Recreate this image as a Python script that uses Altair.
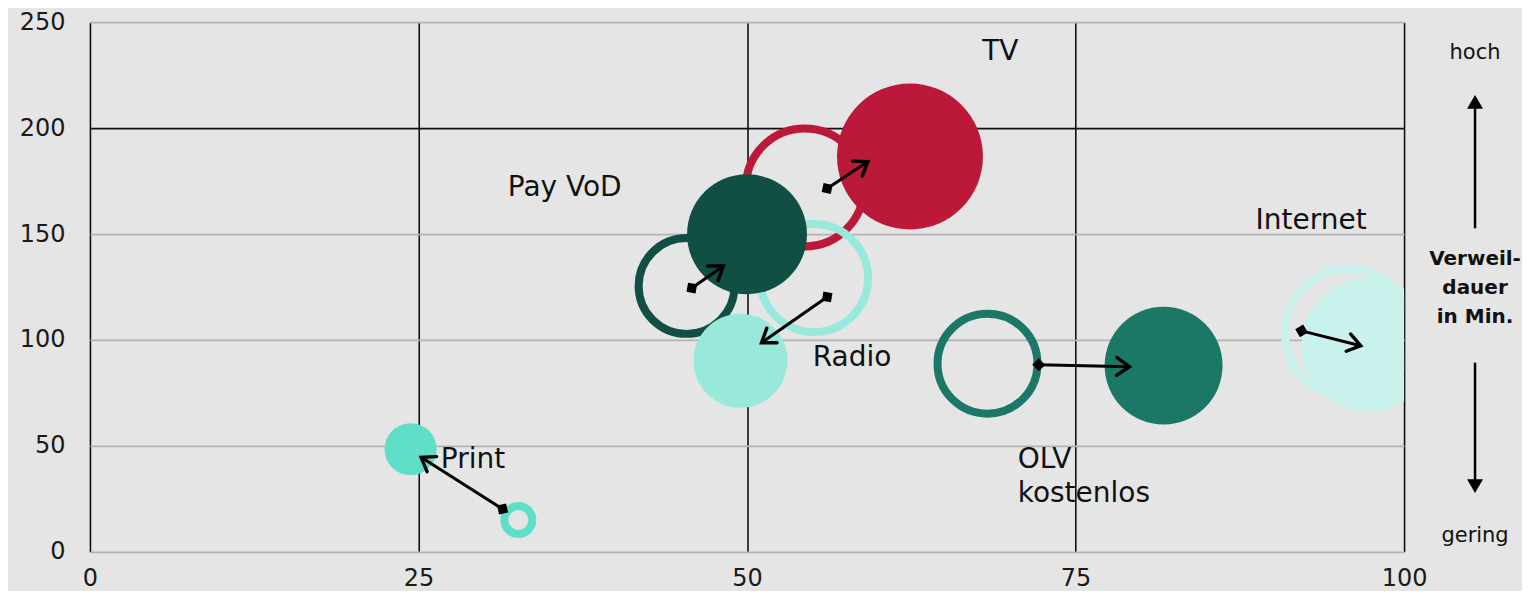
import math
import altair as alt
import pandas as pd

# ---------------- data ----------------
medien = ["TV", "Pay VoD", "Radio", "Print", "OLV kostenlos", "Internet"]
farben = ["#bc1839", "#114f44", "#98e9db", "#5fdfc8", "#1b7766", "#caf2ed"]

# earlier position (ring)
x_vorher = [54.4, 45.4, 55.1, 32.6, 68.3, 95.8]
y_vorher = [172.0, 125.5, 129.2, 15.0, 88.8, 103.4]
groesse_vorher = [34.8, 23.0, 29.2, 1.96, 25.0, 41.0]

# current position (filled bubble)
x_nachher = [62.4, 50.0, 49.5, 24.4, 81.7, 97.3]
y_nachher = [186.6, 149.9, 90.2, 48.4, 87.9, 97.7]
groesse_nachher = [53.3, 36.0, 22.1, 6.8, 34.8, 44.9]

# arrows
pfeil_x1 = [56.1, 45.8, 56.1, 31.4, 72.2, 92.2]
pfeil_y1 = [171.5, 124.5, 120.3, 20.2, 88.3, 104.3]
pfeil_x2 = [59.2, 48.2, 51.1, 25.2, 79.1, 96.7]
pfeil_y2 = [184.2, 134.9, 98.7, 44.6, 87.4, 97.3]

# labels
label_text = ["TV", "Pay VoD", "Radio", "Print", "OLV\nkostenlos", "Internet"]
label_x = [67.9, 31.8, 55.0, 26.7, 70.6, 88.7]
label_y = [235.9, 171.5, 91.6, 43.2, 43.2, 156.0]

x_ticks = [0, 25, 50, 75, 100]
y_ticks = [0, 50, 100, 150, 200, 250]

# side annotation
seite_x = 105.4
seite_texte = ["hoch", "gering"]
seite_text_y = [235.4, 7.5]
seite_titel = "Verweil-\ndauer\nin Min."
seite_titel_y = 138.2
seite_linie_y1 = [152.7, 89.3]
seite_linie_y2 = [210.5, 33.8]
seite_spitze_y = [212.4, 31.0]
seite_spitze_form = ["triangle-up", "triangle-down"]

# ---------------- layout ----------------
W, H = 1315, 530
FONT = "DejaVu Sans"
sx = W / 100.0
sy = H / 250.0
winkel = [
    math.degrees(math.atan2(-(b2 - b1) * sy, (a2 - a1) * sx)) % 360
    for a1, b1, a2, b2 in zip(pfeil_x1, pfeil_y1, pfeil_x2, pfeil_y2)
]

df = pd.DataFrame({
    "medium": medien,
    "x_vorher": x_vorher, "y_vorher": y_vorher, "g_vorher": groesse_vorher,
    "x_nachher": x_nachher, "y_nachher": y_nachher, "g_nachher": groesse_nachher,
    "x1": pfeil_x1, "y1": pfeil_y1, "x2": pfeil_x2, "y2": pfeil_y2,
    "winkel": winkel,
    "label": label_text, "lx": label_x, "ly": label_y,
})

seite_df = pd.DataFrame({"x": [seite_x] * 2, "text": seite_texte, "y": seite_text_y,
                         "ya": seite_linie_y1, "yb": seite_linie_y2,
                         "ys": seite_spitze_y, "form": seite_spitze_form})
titel_df = pd.DataFrame({"x": [seite_x], "y": [seite_titel_y], "text": [seite_titel]})

x_scale = alt.Scale(domain=[0, 100], nice=False, zero=False)
y_scale = alt.Scale(domain=[0, 250], nice=False, zero=False)
color_scale = alt.Scale(domain=medien, range=farben)
# vega symbol size = (2r)^2 ; value v = (r/10)^2
size_scale = alt.Scale(domain=[0, 100], range=[0, 40000], zero=True)

x_axis = alt.Axis(values=x_ticks, grid=True, gridColor="#111111", gridWidth=1.6,
                  domain=False, ticks=False, labelPadding=15, title=None,
                  labelFontSize=24, labelFont=FONT, labelColor="#1a1a1a",
                  labelOverlap=False, labelFlush=False)
y_axis = alt.Axis(values=y_ticks, grid=True,
                  gridColor=alt.condition("datum.value == 200", alt.value("#111111"), alt.value("#b3b3b3")),
                  gridWidth=1.8, domain=False, ticks=False, labelPadding=25, title=None,
                  labelFontSize=24, labelFont=FONT, labelColor="#1a1a1a",
                  labelOverlap=False, labelFlush=False)


def X(field):
    return alt.X(f"{field}:Q", scale=x_scale, axis=x_axis)


def Y(field):
    return alt.Y(f"{field}:Q", scale=y_scale, axis=y_axis)


base = alt.Chart(df)

ringe = base.mark_point(shape="circle", filled=False, strokeWidth=8, opacity=1, clip=True).encode(
    x=X("x_vorher"), y=Y("y_vorher"),
    size=alt.Size("g_vorher:Q", scale=size_scale, legend=None),
    stroke=alt.Stroke("medium:N", scale=color_scale, legend=None),
)

kreise = base.mark_circle(opacity=1, clip=True).encode(
    x=X("x_nachher"), y=Y("y_nachher"),
    size=alt.Size("g_nachher:Q", scale=size_scale, legend=None),
    color=alt.Color("medium:N", scale=color_scale, legend=None),
)

linien = base.mark_rule(strokeWidth=3, color="black").encode(
    x=X("x1"), y=Y("y1"), x2="x2:Q", y2="y2:Q"
)

start = base.mark_point(shape="diamond", filled=True, color="black", size=170, opacity=1).encode(
    x=X("x1"), y=Y("y1"), angle=alt.Angle("winkel:Q", scale=None)
)

spitzen = base.mark_point(shape="M-1,-0.7L0,0L-1,0.7", filled=False, color="black",
                          strokeWidth=3.4, size=650, opacity=1, strokeCap="round",
                          strokeJoin="miter").encode(
    x=X("x2"), y=Y("y2"), angle=alt.Angle("winkel:Q", scale=None)
)

labels = base.mark_text(align="left", baseline="middle", fontSize=28, font=FONT,
                        color="#111111", lineBreak="\n", lineHeight=34).encode(
    x=X("lx"), y=Y("ly"), text="label:N"
)

seite = alt.Chart(seite_df)
seite_text = seite.mark_text(align="center", baseline="middle", fontSize=21, font=FONT,
                             color="#111111").encode(x=X("x"), y=Y("y"), text="text:N")
seite_linie = seite.mark_rule(strokeWidth=2.5, color="black").encode(x=X("x"), y=Y("ya"), y2="yb:Q")
seite_spitze = seite.mark_point(filled=True, color="black", size=256, opacity=1).encode(
    x=X("x"), y=Y("ys"), shape=alt.Shape("form:N", scale=None)
)
titel = alt.Chart(titel_df).mark_text(align="center", baseline="middle", fontSize=20, font=FONT,
                                      fontWeight="bold", color="#111111", lineBreak="\n",
                                      lineHeight=29).encode(x=X("x"), y=Y("y"), text="text:N")

chart = alt.layer(
    ringe, kreise, linien, start, spitzen, labels, seite_text, seite_linie, seite_spitze, titel
).properties(
    width=W, height=H,
    autosize=alt.AutoSizeParams(type="none"),
    padding={"left": 82, "top": 14, "right": 118, "bottom": 39},
    background="#e5e5e5",
).configure_view(stroke=None)

chart.save("out.html", embed_options={"renderer": "svg", "actions": False})
